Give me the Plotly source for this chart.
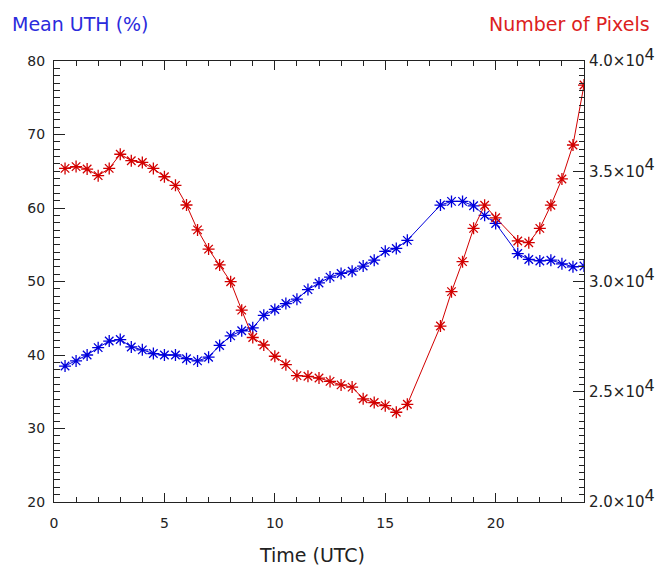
import plotly.graph_objects as go

# Observation times (UTC hours); 16.5, 17.0 and 20.5 have no data
time_utc = [0.5, 1.0, 1.5, 2.0, 2.5, 3.0, 3.5, 4.0, 4.5, 5.0, 5.5, 6.0, 6.5, 7.0,
            7.5, 8.0, 8.5, 9.0, 9.5, 10.0, 10.5, 11.0, 11.5, 12.0, 12.5, 13.0,
            13.5, 14.0, 14.5, 15.0, 15.5, 16.0, 17.5, 18.0, 18.5, 19.0, 19.5,
            20.0, 21.0, 21.5, 22.0, 22.5, 23.0, 23.5, 24.0]

# Mean upper-tropospheric humidity (%)
mean_uth = [38.5, 39.2, 40.0, 41.0, 41.9, 42.1, 41.1, 40.7, 40.2, 40.0, 40.0,
            39.5, 39.2, 39.7, 41.3, 42.6, 43.3, 43.7, 45.4, 46.2, 47.0, 47.6,
            48.9, 49.8, 50.6, 51.1, 51.4, 52.1, 52.9, 54.1, 54.5, 55.6, 60.4,
            60.9, 60.9, 60.3, 59.0, 57.9, 53.8, 53.0, 52.8, 52.9, 52.4, 52.0,
            52.1]

# Number of pixels used in each mean
n_pixels = [35130, 35210, 35100, 34800, 35130, 35770, 35480, 35400, 35130,
            34750, 34360, 33470, 32340, 31470, 30750, 29990, 28700, 27460,
            27120, 26610, 26230, 25730, 25700, 25620, 25470, 25310, 25210,
            24680, 24510, 24370, 24070, 24430, 27980, 29540, 30900, 32410,
            33460, 32890, 31840, 31760, 32410, 33460, 34650, 36190, 38910]

# Right-axis tick values and their labels in scientific notation
pix_ticks = [20000, 25000, 30000, 35000, 40000]
pix_tick_text = [
    "2.0×10<sup><span style='font-size:16px'>4</span></sup>",
    "2.5×10<sup><span style='font-size:16px'>4</span></sup>",
    "3.0×10<sup><span style='font-size:16px'>4</span></sup>",
    "3.5×10<sup><span style='font-size:16px'>4</span></sup>",
    "4.0×10<sup><span style='font-size:16px'>4</span></sup>",
]

BLUE = "#0000dc"
RED = "#d20000"
AXC = "#222222"
FONT = "DejaVu Sans, sans-serif"

fig = go.Figure()

fig.add_trace(go.Scatter(
    x=time_utc, y=mean_uth, mode="lines+markers",
    line=dict(color=BLUE, width=1),
    marker=dict(symbol="asterisk-open", size=10, color=BLUE,
                line=dict(color=BLUE, width=1.3)),
    showlegend=False,
))

fig.add_trace(go.Scatter(
    x=time_utc, y=n_pixels, mode="lines+markers", yaxis="y2",
    line=dict(color=RED, width=1),
    marker=dict(symbol="asterisk-open", size=10, color=RED,
                line=dict(color=RED, width=1.3)),
    showlegend=False,
))

common = dict(showgrid=False, zeroline=False, automargin=False,
              ticks="inside", tickcolor=AXC, tickwidth=1,
              showline=True, linecolor=AXC, linewidth=1)

fig.update_layout(
    width=660, height=566, autosize=False,
    margin=dict(l=54, r=76, t=61, b=64, pad=0),
    paper_bgcolor="white", plot_bgcolor="white",
    font=dict(family=FONT, size=14, color=AXC),
    xaxis=dict(
        range=[0, 24], tickmode="linear", tick0=0, dtick=5, ticklen=9,
        mirror="ticks", ticklabelstandoff=8,
        tickfont=dict(size=14, color=AXC),
        minor=dict(dtick=1, ticks="inside", ticklen=5, tickcolor=AXC,
                   tickwidth=1, showgrid=False),
        **common,
    ),
    yaxis=dict(
        range=[20, 80], tickmode="linear", tick0=20, dtick=10, ticklen=11,
        mirror=False, ticklabelstandoff=5,
        tickfont=dict(size=14, color=AXC),
        minor=dict(dtick=1, ticks="inside", ticklen=6, tickcolor=AXC,
                   tickwidth=1, showgrid=False),
        **common,
    ),
    yaxis2=dict(
        range=[20000, 40000], overlaying="y", side="right",
        tickmode="linear", tick0=20000, dtick=5000, tickformat="d",
        labelalias={str(v): t for v, t in zip(pix_ticks, pix_tick_text)},
        ticklen=11, ticklabelstandoff=1,
        tickfont=dict(size=15, color=AXC),
        minor=dict(dtick=1000 / 3, ticks="inside", ticklen=5,
                   tickcolor=AXC, tickwidth=1, showgrid=False),
        **common,
    ),
    annotations=[
        dict(text="Mean UTH (%)", xref="paper", yref="paper",
             x=-0.083, y=1.083, xanchor="left", yanchor="middle",
             showarrow=False, font=dict(size=19, color="#2b2bdc", family=FONT)),
        dict(text="Number of Pixels", xref="paper", yref="paper",
             x=1.128, y=1.083, xanchor="right", yanchor="middle",
             showarrow=False, font=dict(size=19, color="#dc2020", family=FONT)),
        dict(text="Time (UTC)", xref="paper", yref="paper",
             x=0.4877, y=-0.12, xanchor="center", yanchor="middle",
             showarrow=False, font=dict(size=19, color=AXC, family=FONT)),
    ],
)

fig.write_html("out.html")
